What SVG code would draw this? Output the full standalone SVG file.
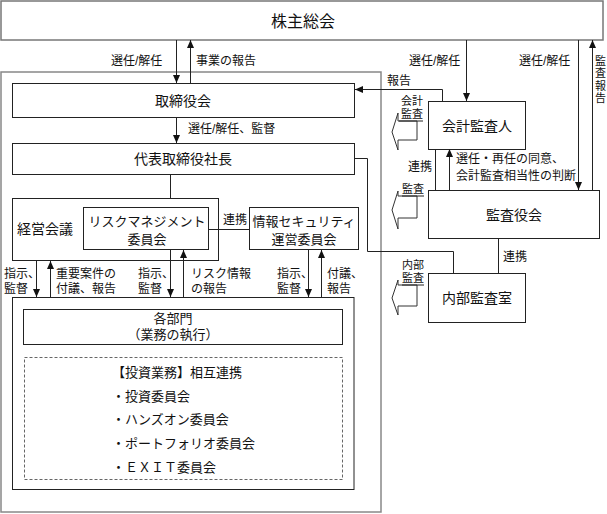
<svg xmlns="http://www.w3.org/2000/svg" width="607" height="514" viewBox="0 0 607 514">
<defs>
<marker id="ah" viewBox="0 0 8 8" refX="8" refY="4" markerWidth="8" markerHeight="8" markerUnits="userSpaceOnUse" orient="auto"><path d="M0,0.5 L8,4 L0,7.5 Z" fill="#111"/></marker>
</defs>
<style>
text{font-family:"Liberation Sans","Noto Sans CJK JP","Noto Sans CJK SC",sans-serif;fill:#111;dominant-baseline:central}
.t16{font-size:16px}
.t14{font-size:14px}
.t13{font-size:13px}
.t12{font-size:12px}
.t11{font-size:11px}
.m{text-anchor:middle}
.vt{writing-mode:vertical-rl;letter-spacing:1.5px}
.box{fill:#fff;stroke:#222;stroke-width:1}
.gbox{fill:#fff;stroke:#777;stroke-width:1.5}
.frame{fill:none;stroke:#888;stroke-width:1.5}
.ln{fill:none;stroke:#222;stroke-width:1}
.arr{fill:none;stroke:#222;stroke-width:1;marker-end:url(#ah)}
.hol{fill:#fff;stroke:#333;stroke-width:1}
.dash{fill:none;stroke:#666;stroke-width:1;stroke-dasharray:3 2}
</style>

<g id="container"><rect class="frame" x="1" y="72" width="380" height="440"/></g>

<g id="shareholders"><rect class="gbox" x="1" y="1" width="602" height="39"/><text class="t16 m" x="303" y="21">株主総会</text></g>

<g id="board"><rect class="box" x="12.5" y="83.5" width="342" height="34"/><text class="t14 m" x="183" y="101">取締役会</text></g>

<g id="president"><rect class="box" x="12.5" y="143.5" width="342" height="31"/><text class="t14 m" x="183" y="159">代表取締役社長</text></g>

<g id="keiei"><rect class="box" x="12.5" y="198.5" width="206" height="62"/><text class="t14 m" x="45" y="229">経営会議</text></g>

<g id="risk"><rect class="box" x="83.5" y="207.5" width="125" height="42"/><text class="t13 m" x="147" y="221">リスクマネジメント</text><text class="t13 m" x="147" y="239">委員会</text></g>

<g id="infosec"><rect class="box" x="249.5" y="207.5" width="109" height="42"/><text class="t13 m" x="304" y="221">情報セキュリティ</text><text class="t13 m" x="304" y="239">運営委員会</text></g>

<g id="depts">
<rect class="box" x="12.5" y="297.5" width="341.5" height="192"/>
<rect class="box" x="23.5" y="309.5" width="319" height="35"/>
<text class="t13 m" x="173" y="318">各部門</text>
<text class="t13 m" x="173" y="334">（業務の執行）</text>
<rect class="dash" x="24.5" y="357.5" width="318" height="122"/>
<text class="t13" x="112" y="372">【投資業務】相互連携</text>
<text class="t13" x="112" y="396">・投資委員会</text>
<text class="t13" x="112" y="419">・ハンズオン委員会</text>
<text class="t13" x="112" y="443">・ポートフォリオ委員会</text>
<text class="t13" x="112" y="467">・ＥＸＩＴ委員会</text>
</g>

<g id="auditor"><rect class="box" x="428.5" y="101.5" width="97" height="48"/><text class="t14 m" x="477" y="126">会計監査人</text></g>

<g id="kansayaku"><rect class="box" x="428.5" y="190.5" width="171" height="48"/><text class="t14 m" x="514" y="215">監査役会</text></g>

<g id="internal"><rect class="box" x="428.5" y="273.5" width="97" height="49"/><text class="t14 m" x="477" y="298">内部監査室</text></g>

<g id="connectors">
<path class="arr" d="M176.5,40 V83"/>
<path class="arr" d="M190.5,83 V40"/>
<path class="arr" d="M466.5,40 V101"/>
<path class="arr" d="M578.5,40 V190"/>
<path class="arr" d="M592.5,190 V40"/>
<path class="arr" d="M442.5,101 V89.5 H355"/>
<path class="arr" d="M176.5,118 V143"/>
<path class="arr" d="M449.5,190 V149"/>
<path class="ln" d="M435.5,149 V190"/>
<path class="ln" d="M498.5,239 V273"/>
<path class="ln" d="M170.5,175 V198"/>
<path class="ln" d="M209,229.5 H249"/>
<path class="ln" d="M354,158.5 H367.5 V251.5 H453.5 V273"/>
<path class="arr" d="M36.5,261 V297"/>
<path class="arr" d="M50.5,297 V261"/>
<path class="arr" d="M170.5,250 V297"/>
<path class="arr" d="M183.5,297 V250"/>
<path class="arr" d="M308.5,250 V297"/>
<path class="arr" d="M321.5,297 V250"/>
<path class="hol" d="M392,132 L398,113 V121 H417 V140 H398 V150 Z"/>
<path class="hol" d="M392,210 L398,191 V196 H417 V218 H398 V229 Z"/>
<path class="hol" d="M392,298 L398,280 V285 H417 V306 H398 V315 Z"/>
<path class="ln" d="M399,121 H423 M402,196 H424 M402,285 H424"/>
</g>

<g id="labels">
<text class="t12" x="111" y="61">選任/解任</text>
<text class="t12" x="196" y="61">事業の報告</text>
<text class="t12" x="409" y="61">選任/解任</text>
<text class="t12" x="519" y="61">選任/解任</text>
<text class="t11 vt" x="599.5" y="55">監査報告</text>
<text class="t12" x="387" y="81">報告</text>
<text class="t12" x="188" y="129">選任/解任、監督</text>
<text class="t11 m" x="412" y="101">会計</text>
<text class="t11 m" x="412" y="114">監査</text>
<text class="t11 m" x="413" y="189">監査</text>
<text class="t11 m" x="413" y="265">内部</text>
<text class="t11 m" x="413" y="278">監査</text>
<text class="t12" x="408" y="167">連携</text>
<text class="t12" x="456" y="159">選任・再任の同意、</text>
<text class="t12" x="456" y="176">会計監査相当性の判断</text>
<text class="t12" x="503" y="257">連携</text>
<text class="t12" x="223" y="220">連携</text>
<text class="t12" x="4" y="274">指示、</text>
<text class="t12" x="4" y="289">監督</text>
<text class="t12" x="56" y="274">重要案件の</text>
<text class="t12" x="56" y="289">付議、報告</text>
<text class="t12" x="138" y="274">指示、</text>
<text class="t12" x="138" y="289">監督</text>
<text class="t12" x="191" y="274">リスク情報</text>
<text class="t12" x="191" y="289">の報告</text>
<text class="t12" x="277" y="274">指示、</text>
<text class="t12" x="277" y="289">監督</text>
<text class="t12" x="327" y="274">付議、</text>
<text class="t12" x="327" y="289">報告</text>
</g>
</svg>
